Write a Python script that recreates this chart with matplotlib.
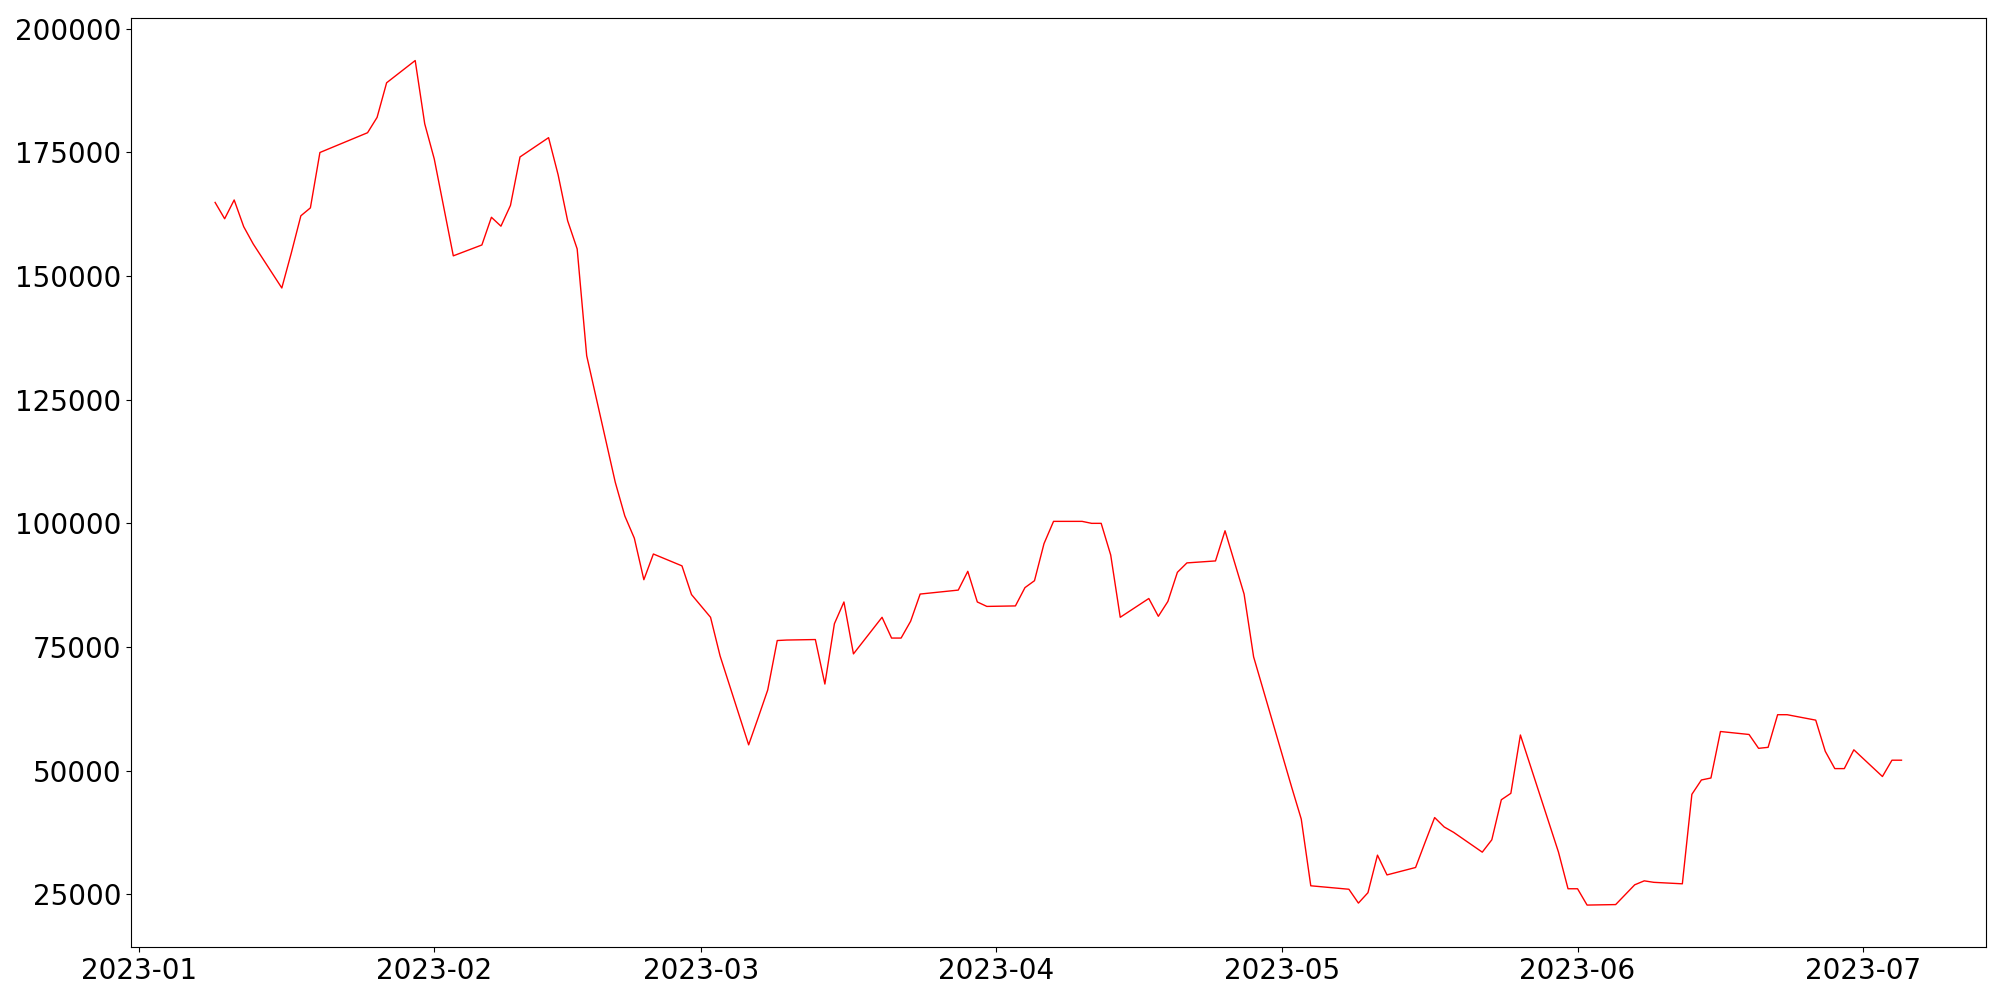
import pandas as pd
import matplotlib
matplotlib.use('Agg')
import matplotlib.pyplot as plt

# KRX trading days, Jan 9 - Jul 5 2023 (market holidays removed)
krx_holidays = ['2023-01-23', '2023-01-24', '2023-03-01', '2023-05-01',
                '2023-05-05', '2023-05-29', '2023-06-06']
dates = pd.bdate_range('2023-01-09', '2023-07-05', freq='C', holidays=krx_holidays)

# closing price
close_jan = [164900, 161600, 165400, 160000, 156500, 147600, 154700, 162200,
             163800, 175000, 179000, 182100, 189100, 193600, 180800]
close_feb = [173700, 163900, 154100, 156300, 161900, 160100, 164300, 174100,
             178000, 170500, 161200, 155500, 133900, 108300, 101500, 97000,
             88600, 93800, 91400, 85600]
close_mar = [81000, 73200, 55200, 60700, 66300, 76300, 76400, 76500, 67500,
             79700, 84100, 73600, 81000, 76800, 76800, 80200, 85700, 86300,
             86500, 90300, 84100, 83200]
close_apr = [83300, 87000, 88400, 95900, 100400, 100400, 100000, 100000,
             93600, 81000, 84800, 81200, 84200, 90100, 92000, 92400, 98500,
             92100, 85700, 73000]
close_may = [46600, 40200, 26700, 26000, 23200, 25300, 32900, 28900, 30400,
             35500, 40500, 38600, 37500, 33500, 36000, 44100, 45400, 57200,
             33500, 26100]
close_jun = [26100, 22800, 22900, 26900, 27700, 27400, 27100, 45200, 48100,
             48500, 57900, 57300, 54500, 54700, 61300, 61300, 60200, 53900,
             50400, 50400, 54200]
close_jul = [48800, 52100, 52100]

close = close_jan + close_feb + close_mar + close_apr + close_may + close_jun + close_jul

fig, ax = plt.subplots(figsize=(20, 10), dpi=100)
ax.plot(dates, close, color='red', linewidth=1)
ax.tick_params(axis='both', labelsize=20)

plt.subplots_adjust(left=0.0654, right=0.9929, top=0.9817, bottom=0.0527)
plt.savefig('out.png', dpi=100)
